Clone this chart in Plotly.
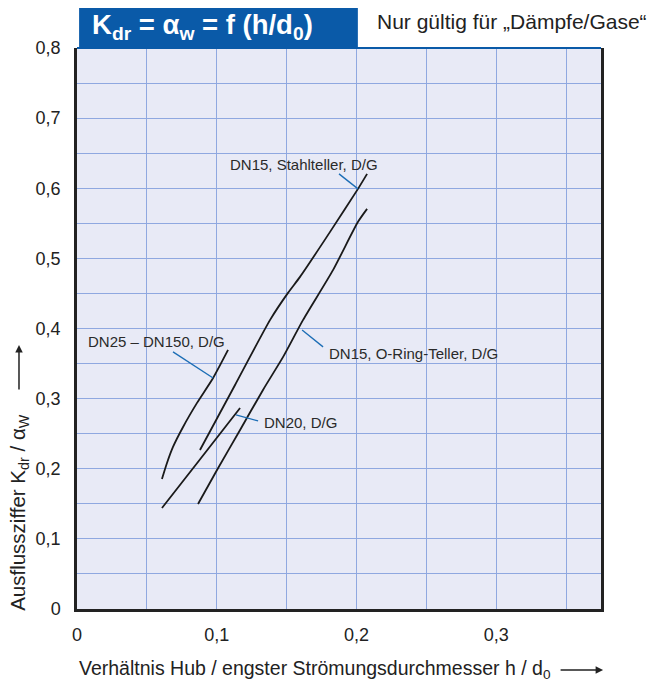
import plotly.graph_objects as go

# ---- data ----
dn25_x = [0.0608, 0.0644, 0.0687, 0.0759, 0.0859, 0.0974, 0.1081]
dn25_y = [0.1855, 0.2083, 0.2311, 0.2596, 0.2939, 0.3295, 0.3695]

dn20_x = [0.0608, 0.0888, 0.1167]
dn20_y = [0.1441, 0.2154, 0.2867]

stahl_x = [0.0880, 0.1131, 0.1382, 0.1510, 0.1596, 0.1811, 0.2011, 0.2076]
stahl_y = [0.2268, 0.3195, 0.4123, 0.4508, 0.4736, 0.5378, 0.5991, 0.6205]

oring_x = [0.0866, 0.1002, 0.1167, 0.1331, 0.1475, 0.1618, 0.1833, 0.2011, 0.2076]
oring_y = [0.1498, 0.1983, 0.2553, 0.3124, 0.3595, 0.4123, 0.4836, 0.5521, 0.5706]

x_tickvals = [0, 0.05, 0.1, 0.15, 0.2, 0.25, 0.3, 0.35]
x_ticktext = ["0", " ", "0,1", " ", "0,2", " ", "0,3", " "]
y_tickvals = [0, 0.05, 0.1, 0.15, 0.2, 0.25, 0.3, 0.35, 0.4, 0.45, 0.5, 0.55, 0.6, 0.65, 0.7, 0.75, 0.8]
y_ticktext = ["0", " ", "0,1", " ", "0,2", " ", "0,3", " ", "0,4", " ", "0,5", " ", "0,6", " ", "0,7", " ", "0,8"]

# labels: text, text x, text y, anchor, leader start (x,y), leader end (x,y)
label_text = ["DN15, Stahlteller, D/G", "DN15, O-Ring-Teller, D/G", "DN25 – DN150, D/G", "DN20, D/G"]
label_x = [0.1625, 0.1790, 0.0569, 0.1324]
label_y = [0.6334, 0.3638, 0.3809, 0.2653]
label_anchor = ["center", "left", "center", "left"]
leader_x0 = [0.1875, 0.1611, 0.0687, 0.1138]
leader_y0 = [0.6205, 0.3980, 0.3666, 0.2767]
leader_x1 = [0.2011, 0.1761, 0.0974, 0.1296]
leader_y1 = [0.5991, 0.3738, 0.3295, 0.2682]

FONT = "Liberation Sans, Arial, sans-serif"
GRID = "#8fa8e0"
BLUE = "#0a5aa8"
LEADER = "#1b6db5"

fig = go.Figure()
for xs, ys in [(dn25_x, dn25_y), (dn20_x, dn20_y), (stahl_x, stahl_y), (oring_x, oring_y)]:
    fig.add_trace(go.Scatter(x=xs, y=ys, mode="lines",
                             line=dict(color="#1a1a1a", width=1.8, shape="spline", smoothing=0.6),
                             showlegend=False, hoverinfo="skip"))

for i in range(len(label_text)):
    fig.add_shape(type="line", x0=leader_x0[i], y0=leader_y0[i], x1=leader_x1[i], y1=leader_y1[i],
                  xref="x", yref="y", line=dict(color=LEADER, width=1.3))
    fig.add_annotation(x=label_x[i], y=label_y[i], text=label_text[i], showarrow=False,
                       xanchor=label_anchor[i], yanchor="middle",
                       font=dict(family=FONT, size=15, color="#2a2a2a"))

# top border (blue) and title box
fig.add_shape(type="line", xref="paper", yref="paper", x0=0, x1=1, y0=1, y1=1,
              line=dict(color=BLUE, width=2))
fig.add_shape(type="rect", xref="paper", yref="paper", x0=0.004, x1=0.536, y0=0.998, y1=1.077,
              fillcolor=BLUE, line=dict(width=0))
fig.add_annotation(xref="paper", yref="paper", x=0.025, y=1.038, xanchor="left", yanchor="middle",
                   text="<b>K<sub>dr</sub> = α<sub>w</sub> = f (h/d<sub>0</sub>)</b>", showarrow=False,
                   font=dict(family=FONT, size=27.5, color="white"))
fig.add_annotation(xref="paper", yref="paper", x=0.568, y=1.047, xanchor="left", yanchor="middle",
                   text="Nur gültig für „Dämpfe/Gase“", showarrow=False,
                   font=dict(family=FONT, size=21, color="#222222"))

# axis titles with arrows
fig.add_annotation(xref="paper", yref="paper", x=0.0, y=-0.1087, xanchor="left", yanchor="middle",
                   text="Verhältnis Hub / engster Strömungsdurchmesser h / d<sub>0</sub>", showarrow=False,
                   font=dict(family=FONT, size=19.5, color="#222222"))
fig.add_annotation(xref="paper", yref="paper", x=1.004, y=-0.1087, ax=-44, ay=0, text="",
                   showarrow=True, arrowhead=2, arrowsize=1, arrowwidth=1.5, arrowcolor="#222222")
fig.add_annotation(xref="paper", yref="paper", x=-0.1107, y=-0.006, xanchor="center", yanchor="bottom",
                   textangle=-90, text="Ausflussziffer K<sub>dr</sub> / α<sub>W</sub>", showarrow=False,
                   font=dict(family=FONT, size=20.5, color="#222222"))
fig.add_annotation(xref="paper", yref="paper", x=-0.1107, y=0.4706, ax=0, ay=46, text="",
                   showarrow=True, arrowhead=2, arrowsize=1, arrowwidth=1.5, arrowcolor="#222222")

fig.update_xaxes(range=[0, 0.375], tickvals=x_tickvals, ticktext=x_ticktext,
                 showgrid=True, gridcolor=GRID, gridwidth=1, zeroline=False,
                 showline=True, linecolor="#222222", linewidth=2.5, mirror=False,
                 ticks="outside", ticklen=8, tickcolor="rgba(0,0,0,0)",
                 tickfont=dict(family=FONT, size=18, color="#222222"))
fig.update_yaxes(range=[0, 0.8], tickvals=y_tickvals, ticktext=y_ticktext,
                 showgrid=True, gridcolor=GRID, gridwidth=1, zeroline=False,
                 showline=True, linecolor="#222222", linewidth=2.5, mirror=True,
                 ticks="outside", ticklen=10, tickcolor="rgba(0,0,0,0)",
                 tickfont=dict(family=FONT, size=18, color="#222222"))

# the page body adds an 8 px offset, so the figure is 8 px smaller and margins shifted
fig.update_layout(width=652, height=673, margin=dict(l=69, r=59, t=40, b=72),
                  plot_bgcolor="#e8eaf6", paper_bgcolor="white", showlegend=False)

fig.write_html("out.html")
